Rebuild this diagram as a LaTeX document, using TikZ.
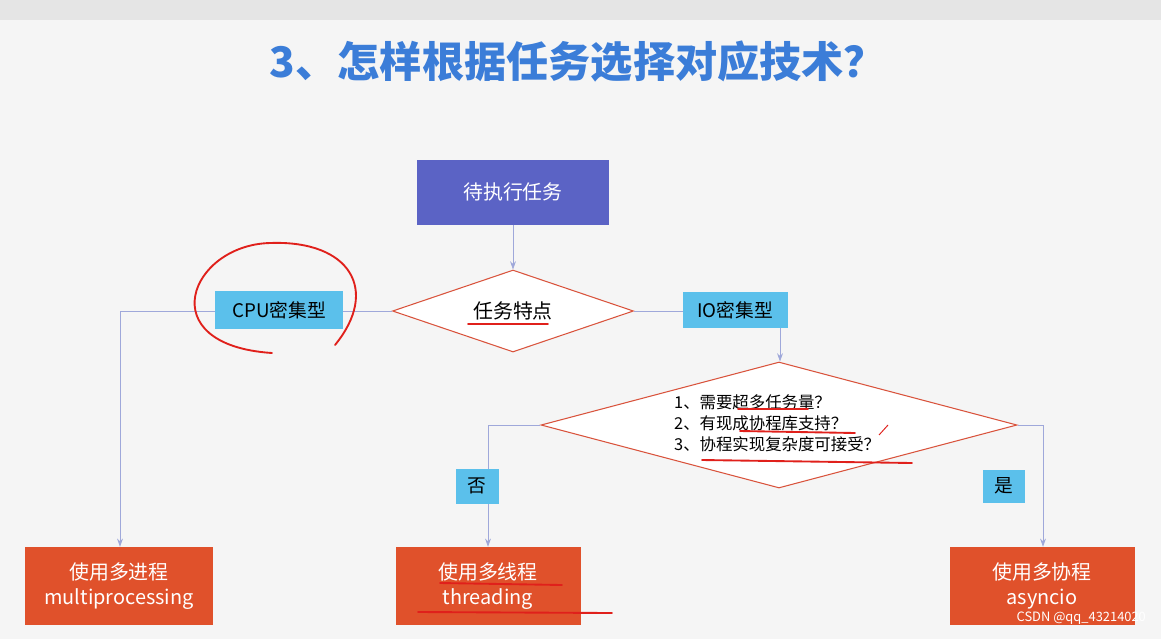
\documentclass[tikz,border=0pt]{standalone}
\usepackage{fontspec}
\setmainfont{Noto Sans CJK SC}
\usetikzlibrary{shapes.geometric,arrows.meta}
\definecolor{ttl}{HTML}{3B7DD8}
\definecolor{top}{HTML}{5B63C5}
\definecolor{lbl}{HTML}{5BC0EB}
\definecolor{res}{HTML}{E0512B}
\definecolor{ln}{HTML}{9FA8DA}
\definecolor{dia}{HTML}{D9533C}
\definecolor{pen}{HTML}{E0201B}
\tikzset{
 lab/.style={fill=lbl,inner sep=0pt,font=\fontsize{16}{18}\selectfont},
 resbox/.style={fill=res,text=white,inner sep=0pt,align=center,font=\fontsize{17}{22}\selectfont},
 conn/.style={draw=ln,line width=0.7pt},
 arr/.style={conn,-{Stealth[length=7pt,width=5pt]}},
 ink/.style={draw=pen,line width=1.6pt,line cap=round},
 dmd/.style={diamond,draw=dia,fill=white,line width=0.9pt,inner sep=0pt,aspect=2.9}
}
\begin{document}
\begin{tikzpicture}[x=0.03cm,y=-0.03cm]
\fill[white!96!black] (0,0) rectangle (1161,639);
\fill[white!90!black] (0,0) rectangle (1161,20);
\useasboundingbox (0,0) rectangle (1161,639);
\node[text=ttl,font=\fontsize{36}{40}\selectfont\bfseries] (title) at (578,62) {3、怎样根据任务选择对应技术？};
\node[fill=top,text=white,minimum width=192*0.03cm,minimum height=65*0.03cm,font=\fontsize{17}{20}\selectfont] (start) at (513,192) {待执行任务};
\node[dmd,minimum width=241*0.03cm,minimum height=82*0.03cm,font=\fontsize{17}{20}\selectfont] (d1) at (513,311) {任务特点};
\node[dmd,minimum width=476*0.03cm,minimum height=126*0.03cm] (d2) at (779,425) {};
\node[align=left,anchor=west,font=\fontsize{14}{18}\selectfont] (q) at (670,423) {1、需要超多任务量？\\2、有现成协程库支持？\\3、协程实现复杂度可接受？};
\node[resbox,minimum width=188*0.03cm,minimum height=78*0.03cm] (r1) at (119,586) {使用多进程\\multiprocessing};
\node[resbox,minimum width=185*0.03cm,minimum height=78*0.03cm] (r2) at (488,586) {使用多线程\\threading};
\node[resbox,minimum width=185*0.03cm,minimum height=78*0.03cm] (r3) at (1042,586) {使用多协程\\asyncio};
\coordinate (c1) at (120,311);
\coordinate (c2) at (780,311);
\coordinate (c3) at (488,425);
\coordinate (c4) at (1043,425);
\draw[arr] (start) -- (d1);
\draw[conn] (d1.west) -- (c1);
\draw[arr] (c1) -- (r1.north -| c1);
\draw[conn] (d1.east) -- (c2);
\draw[arr] (c2) -- (d2.north -| c2);
\draw[conn] (d2.west) -- (c3);
\draw[arr] (c3) -- (r2.north -| c3);
\draw[conn] (d2.east) -- (c4);
\draw[arr] (c4) -- (r3.north -| c4);
\node[lab,minimum width=128*0.03cm,minimum height=38*0.03cm] (l1) at (279,310) {CPU密集型};
\node[lab,minimum width=105*0.03cm,minimum height=36*0.03cm] (l2) at (735,310) {IO密集型};
\node[lab,minimum width=43*0.03cm,minimum height=35*0.03cm] (l3) at (477,486) {否};
\node[lab,minimum width=42*0.03cm,minimum height=33*0.03cm] (l4) at (1004,486) {是};
% handwritten red annotations
\draw[ink] (272,353) .. controls (150,345) and (190,245) .. (270,243) .. controls (350,240) and (380,290) .. (335,345);
\draw[ink] (468,324) -- (548,324);
\draw[ink] (738,409) -- (808,409);
\draw[ink] (740,431) -- (855,433);
\draw[ink] (702,460) -- (912,463);
\draw[ink] (440,583) -- (562,585);
\draw[ink] (418,612) -- (612,613);
\draw[pen,line width=0.8pt] (879,435) -- (888,425);
\node[text=white,font=\fontsize{11}{13}\selectfont,anchor=east] (wm) at (1150,618) {CSDN @qq\_43214020};
\end{tikzpicture}
\end{document}
